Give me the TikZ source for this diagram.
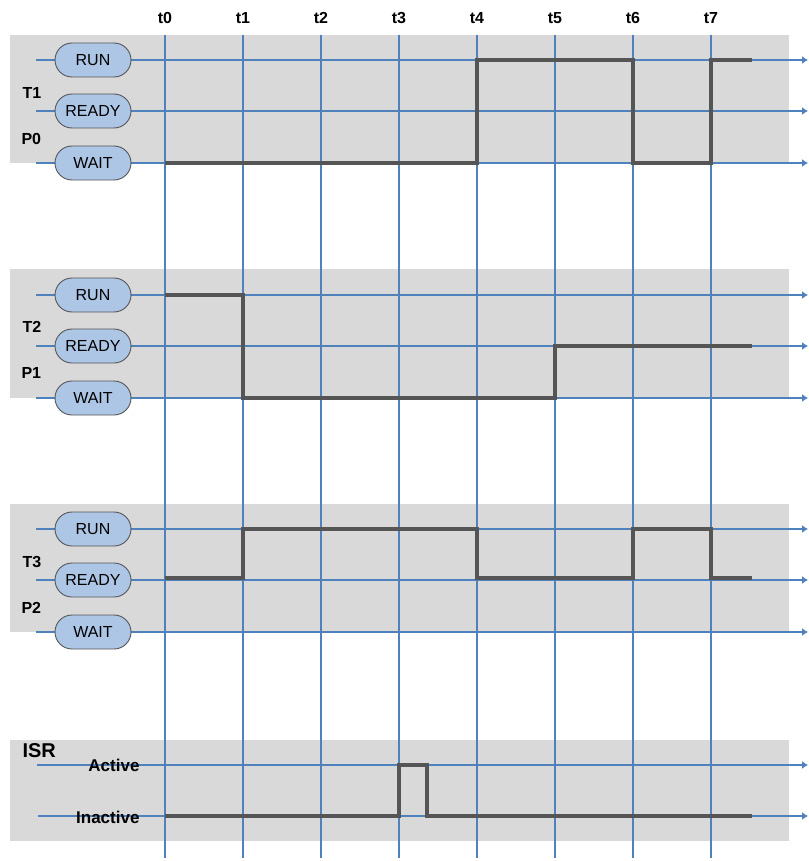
\documentclass[tikz,border=0pt]{standalone}
\usepackage{fontspec}
\setmainfont{Liberation Sans}
\usetikzlibrary{arrows.meta,shapes.misc}

\definecolor{panelgray}{RGB}{217,217,217}
\definecolor{gridblue}{RGB}{79,129,189}
\definecolor{pillblue}{RGB}{173,198,229}
\definecolor{sigdark}{RGB}{85,85,85}

\tikzset{
  panel/.style={fill=panelgray,draw=none},
  gridline/.style={draw=gridblue,line width=1.1pt},
  timeline/.style={gridline,-{Latex[length=6pt,width=8pt]}},
  pill/.style={rounded rectangle,draw=sigdark,fill=pillblue,line width=0.9pt,
    minimum width=76pt,minimum height=34pt,inner sep=0pt,font=\fontsize{16}{16}\selectfont},
  signal/.style={draw=sigdark,line width=3.5pt,line join=miter},
  tlabel/.style={font=\bfseries\fontsize{16}{16}\selectfont},
  plabel/.style={font=\bfseries\fontsize{16}{16}\selectfont,anchor=west},
}

\begin{document}
\begin{tikzpicture}[x=1pt,y=-1pt]
\useasboundingbox (0,0) rectangle (808,861);
%%% Hintergrundfelder
	\fill[panel] (10,35) rectangle (789,163);
	\fill[panel] (10,269) rectangle (789,398);
	\fill[panel] (10,504) rectangle (789,632);
	\fill[panel] (10,740) rectangle (789,841);
%%% Zeitmarken und senkrechte Linien
	\foreach \i in {0,...,7}{
		\node[tlabel] (t\i) at (165+78*\i,18) {t\i};
		\coordinate (tb\i) at (165+78*\i,858);
		\draw[gridline] (165+78*\i,35) -- (tb\i);
	}
%%% Zustaende der Tasks
	\foreach \k/\y in {0/60,1/295,2/529}{
		\foreach \s/\d [count=\j] in {RUN/0,READY/51,WAIT/103}{
			\coordinate (l\k\j) at (36,\y+\d);
			\coordinate (r\k\j) at (808,\y+\d);
			\draw[gridline] (l\k\j) -- (93,\y+\d);
			\draw[timeline] (93,\y+\d) -- (r\k\j);
		}
	}
%%% ISR Linien
	\coordinate (la) at (37,765);
	\coordinate (ra) at (808,765);
	\coordinate (li) at (38,816);
	\coordinate (ri) at (808,816);
	\draw[timeline] (la) -- (ra);
	\draw[timeline] (li) -- (ri);
%%% Signalverlaeufe
	\draw[signal] (165,163) -- (477,163) -- (477,60) -- (633,60) -- (633,163)
		-- (711,163) -- (711,60) -- (752,60);
	\draw[signal] (165,295) -- (243,295) -- (243,398) -- (555,398) -- (555,346) -- (752,346);
	\draw[signal] (165,578) -- (243,578) -- (243,529) -- (477,529) -- (477,578)
		-- (633,578) -- (633,529) -- (711,529) -- (711,578) -- (752,578);
	\draw[signal] (165,816) -- (399,816) -- (399,765) -- (427,765) -- (427,816) -- (752,816);
%%% Beschriftung der Zustaende
	\foreach \k/\y in {0/60,1/295,2/529}{
		\node[pill] (run\k) at (93,\y) {RUN};
		\node[pill] (ready\k) at (93,\y+51) {READY};
		\node[pill] (wait\k) at (93,\y+103) {WAIT};
	}
	\foreach \k/\y in {0/93,1/327,2/562}{
		\pgfmathtruncatemacro{\tn}{\k+1}
		\node[plabel] (task\k) at (19,\y) {T\tn};
		\node[plabel] (proc\k) at (18,\y+46) {P\k};
	}
%%% ISR
	\node[font=\bfseries\fontsize{20}{20}\selectfont,anchor=west] (isr) at (19,751) {ISR};
	\node[font=\bfseries\fontsize{17}{17}\selectfont,anchor=east] (active) at (143,765) {Active};
	\node[font=\bfseries\fontsize{17}{17}\selectfont,anchor=east] (inactive) at (143,817) {Inactive};
\end{tikzpicture}
\end{document}
